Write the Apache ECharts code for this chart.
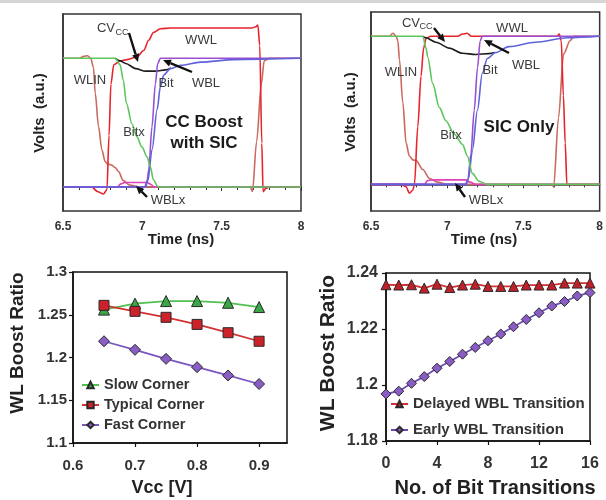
<!DOCTYPE html>
<html><head><meta charset="utf-8">
<script src="https://cdn.jsdelivr.net/npm/echarts@6/dist/echarts.min.js"></script>
<style>html,body{margin:0;padding:0;background:#fff}#c{width:606px;height:500px}</style>
</head><body><div id="c"></div>
<script>
// ---------- DATA ----------
// Top-left: "CC Boost with SIC" waveforms  [time ns, volts a.u.]
const p1WLIN = [[6.5,1],[6.6,1],[6.63,1.015],[6.655,1.02],[6.675,1.0],[6.692,0.93],[6.703,0.73],[6.724,0.47],[6.745,0.29],[6.765,0.2],[6.78,0.18],[6.808,0.17],[6.83,0.15],[6.85,0.12],[6.88,0.05],[6.92,0.015],[6.99,0],[7.68,0],[7.694,-0.035],[7.72,0.35],[7.75,0.8],[7.768,0.98],[7.8,1],[8,1]];
const p1WWL = [[6.5,0],[6.68,0],[6.72,-0.036],[6.755,-0.054],[6.777,-0.02],[6.79,0.4],[6.802,0.8],[6.82,0.95],[6.86,0.98],[6.903,0.99],[6.966,1.01],[7.008,1.06],[7.04,1.14],[7.07,1.2],[7.114,1.23],[7.177,1.235],[7.69,1.235],[7.715,1.245],[7.728,1.258],[7.74,1.1],[7.753,0.34],[7.761,-0.036],[7.778,-0.01],[7.8,0],[8,0]];
const p1CV = [[6.83,1.0],[6.86,0.98],[6.895,0.96],[6.958,0.92],[7.021,0.9],[7.085,0.9],[7.146,0.91],[7.18,0.925]];
const p1WBLx = [[6.5,0],[6.84,0],[6.865,0.025],[6.89,0.035],[7.03,0.035],[7.055,0.02],[7.075,0],[8,0]];
const p1Bit = [[6.5,0],[7.015,0],[7.03,0.05],[7.04,0.13],[7.061,0.47],[7.082,0.8],[7.097,0.96],[7.114,1.0],[8,1]];
const p1WBL = [[6.5,0],[7.02,0],[7.035,0.05],[7.061,0.29],[7.093,0.6],[7.114,0.78],[7.135,0.87],[7.177,0.92],[7.24,0.945],[7.367,0.97],[7.576,0.99],[8,1.0]];
const p1Bitx = [[6.5,1],[6.83,1],[6.86,0.95],[6.88,0.83],[6.9,0.65],[6.935,0.49],[6.966,0.39],[6.998,0.31],[7.03,0.235],[7.05,0.16],[7.07,0.055],[7.1,0.0],[8,0]];

// Top-right: "SIC Only" waveforms
const p2WLIN = [[6.5,1],[6.62,1],[6.644,1.02],[6.665,1.0],[6.676,0.97],[6.687,0.84],[6.709,0.55],[6.73,0.28],[6.752,0.19],[6.775,0.165],[6.796,0.16],[6.84,0.1],[6.883,0.04],[6.937,0.015],[7.0,0],[7.69,0],[7.698,-0.02],[7.73,0.45],[7.763,0.88],[7.806,0.97],[7.83,1],[8,1]];
const p2WWL = [[6.5,0],[6.7,0],[6.73,-0.016],[6.752,-0.06],[6.774,-0.04],[6.785,0.0],[6.807,0.39],[6.828,0.73],[6.845,0.92],[6.861,0.985],[6.893,1.0],[7.07,1.0],[7.1,1.015],[7.13,1.02],[7.16,1.0],[7.72,1.0],[7.735,1.015],[7.748,0.97],[7.762,0.6],[7.774,0.28],[7.785,0.0],[7.8,0],[8,0]];
const p2CV = [[6.84,1.0],[6.86,0.99],[6.926,0.96],[7.013,0.92],[7.1,0.885],[7.187,0.877],[7.274,0.883],[7.31,0.89]];
const p2WBLx = [[6.5,0],[6.85,0],[6.872,0.025],[6.9,0.03],[7.12,0.03],[7.15,0.015],[7.185,0],[8,0]];
const p2Bit = [[6.5,0],[7.12,0],[7.135,0.03],[7.155,0.2],[7.177,0.5],[7.199,0.79],[7.216,0.97],[7.23,1.0],[8,1]];
const p2WBL = [[6.5,0],[7.125,0],[7.14,0.04],[7.165,0.23],[7.198,0.5],[7.23,0.75],[7.263,0.85],[7.317,0.89],[7.405,0.93],[7.578,0.96],[7.79,0.99],[8,1.0]];
const p2Bitx = [[6.5,1],[6.84,1],[6.861,0.92],[6.872,0.86],[6.905,0.68],[6.948,0.52],[6.991,0.43],[7.046,0.34],[7.1,0.27],[7.133,0.19],[7.165,0.074],[7.209,0.02],[7.263,0.0],[8,0]];

// Bottom-left: WL boost ratio vs Vcc
const vcc = [0.65, 0.7, 0.75, 0.8, 0.85, 0.9];
const slowCorner = [1.256, 1.263, 1.266, 1.266, 1.264, 1.259];
const typicalCorner = [1.261, 1.254, 1.247, 1.2387, 1.229, 1.219];
const fastCorner = [1.219, 1.209, 1.1984, 1.1887, 1.179, 1.169];

// Bottom-right: WL boost ratio vs number of bit transitions
const bitTransitions = [0,1,2,3,4,5,6,7,8,9,10,11,12,13,14,15,16];
const delayedWBL = [1.2358,1.2357,1.2358,1.2346,1.236,1.2348,1.2357,1.236,1.2352,1.2352,1.2352,1.2357,1.2357,1.2357,1.2364,1.2364,1.2364];
const earlyWBL = [1.1968,1.1978,1.2006,1.203,1.206,1.2084,1.211,1.2134,1.2158,1.2182,1.2208,1.2234,1.2258,1.2282,1.2298,1.2318,1.233];

// Axis ticks
const timeTicks = [6.5, 7, 7.5, 8];
const vccTicks = [0.6, 0.7, 0.8, 0.9];
const ratioTicksL = [1.1, 1.15, 1.2, 1.25, 1.3];
const bitTicks = [0, 4, 8, 12, 16];
const ratioTicksR = [1.18, 1.2, 1.22, 1.24];

// ---------- CHART ----------
const FF = '"Liberation Sans", Arial, Helvetica, sans-serif';
const zip = (xs, ys) => xs.map((x, i) => [x, ys[i]]);
const C = {wlin:'#c96a5f', wwl:'#e8232b', cv:'#1e1e1e', wblx:'#e040b8', bit:'#9a4fd0', wbl:'#5f62dc', bitx:'#5cc65c'};

function wave(name, data, color, gi, z) {
  return {type:'line', name:name, data:data, xAxisIndex:gi, yAxisIndex:gi, symbol:'none', showSymbol:false,
    smooth:0.3, smoothMonotone:'x', lineStyle:{color:color, width:1.6}, z:z, silent:true, animation:false};
}

const topX = (gi) => ({type:'value', gridIndex:gi, min:timeTicks[0], max:timeTicks[timeTicks.length-1], interval:0.5,
  axisLine:{show:true, lineStyle:{color:'#333', width:1.5}},
  axisTick:{show:true, length:4, lineStyle:{color:'#333'}},
  minorTick:{show:true, splitNumber:5, length:3, lineStyle:{color:'#333'}},
  splitLine:{show:false},
  axisLabel:{margin:10, color:'#333', fontSize:12, fontWeight:'bold', fontFamily:FF}});
const topY = (gi, mn, mx) => ({type:'value', gridIndex:gi, min:mn, max:mx, axisLine:{show:true, lineStyle:{color:'#333', width:1.5}},
  axisTick:{show:false}, axisLabel:{show:false}, splitLine:{show:false}});

const series = [
  wave('WLIN1', p1WLIN, C.wlin, 0, 1), wave('WWL1', p1WWL, C.wwl, 0, 2), wave('CV1', p1CV, C.cv, 0, 3),
  wave('WBLx1', p1WBLx, C.wblx, 0, 4), wave('Bit1', p1Bit, C.bit, 0, 5), wave('WBL1', p1WBL, C.wbl, 0, 6),
  wave('Bitx1', p1Bitx, C.bitx, 0, 7),
  wave('WLIN2', p2WLIN, C.wlin, 1, 1), wave('WWL2', p2WWL, C.wwl, 1, 2), wave('CV2', p2CV, C.cv, 1, 3),
  wave('WBLx2', p2WBLx, C.wblx, 1, 4), wave('Bit2', p2Bit, C.bit, 1, 5), wave('WBL2', p2WBL, C.wbl, 1, 6),
  wave('Bitx2', p2Bitx, C.bitx, 1, 7),
  {type:'line', name:'Slow Corner', data:zip(vcc, slowCorner), xAxisIndex:2, yAxisIndex:2, symbol:'triangle', symbolSize:11,
    itemStyle:{color:'#3aa648', borderColor:'#2a2a2a', borderWidth:1}, lineStyle:{color:'#52c052', width:1.8}, animation:false},
  {type:'line', name:'Typical Corner', data:zip(vcc, typicalCorner), xAxisIndex:2, yAxisIndex:2, symbol:'rect', symbolSize:10,
    itemStyle:{color:'#cc2229', borderColor:'#2a2a2a', borderWidth:1}, lineStyle:{color:'#d23232', width:1.8}, animation:false},
  {type:'line', name:'Fast Corner', data:zip(vcc, fastCorner), xAxisIndex:2, yAxisIndex:2, symbol:'diamond', symbolSize:11,
    itemStyle:{color:'#8a5cc6', borderColor:'#2a2a2a', borderWidth:1}, lineStyle:{color:'#7a56c0', width:1.8}, animation:false},
  {type:'line', name:'Delayed WBL Transition', data:zip(bitTransitions, delayedWBL), xAxisIndex:3, yAxisIndex:3, symbol:'triangle', symbolSize:10,
    itemStyle:{color:'#c0202a', borderColor:'#2a2a2a', borderWidth:1}, lineStyle:{color:'#d23232', width:1.8}, animation:false},
  {type:'line', name:'Early WBL Transition', data:zip(bitTransitions, earlyWBL), xAxisIndex:3, yAxisIndex:3, symbol:'diamond', symbolSize:10,
    itemStyle:{color:'#8a5cc6', borderColor:'#2a2a2a', borderWidth:1}, lineStyle:{color:'#6c4cb4', width:1.8}, animation:false}
];

const botAxisCommon = (fs, margin) => ({
  axisLine:{show:true, lineStyle:{color:'#111', width:1.5}},
  axisTick:{show:true, length:4, lineStyle:{color:'#111', width:1.2}},
  splitLine:{show:false},
  axisLabel:{margin:margin, color:'#333', fontSize:fs, fontWeight:'bold', fontFamily:FF}
});

// annotations
const g = [];
g.push({type:'rect', shape:{x:0,y:0,width:606,height:3}, style:{fill:'#d6d6d6'}, z:100});
function txt(s, x, y, fs, bold, color, rot) {
  g.push({type:'text', x:x, y:y, rotation:rot||0, z:100, style:{text:s, x:0, y:0, align:'center', verticalAlign:'middle',
    font:(bold?'bold ':'') + fs + 'px ' + FF, fill:color||'#3a3a3a'}});
}
function arrow(x1, y1, x2, y2) {
  const a = Math.atan2(y2 - y1, x2 - x1), L = 8, W = 3.6;
  const bx = x2 - L*Math.cos(a), by = y2 - L*Math.sin(a);
  g.push({type:'line', z:100, shape:{x1:x1, y1:y1, x2:bx, y2:by}, style:{stroke:'#111', lineWidth:2.4}});
  g.push({type:'polygon', z:100, shape:{points:[[x2,y2],[bx - W*Math.sin(a), by + W*Math.cos(a)],[bx + W*Math.sin(a), by - W*Math.cos(a)]]}, style:{fill:'#111'}});
}
// top-left
txt('CV', 106, 28, 13); txt('CC', 122, 33, 9);
arrow(129, 33, 138, 62);
txt('WWL', 201, 40, 13); txt('WLIN', 90, 80, 13); txt('Bit', 166, 83, 13); txt('WBL', 206, 83, 13);
arrow(192, 72, 163, 60);
txt('Bitx', 134, 132, 13);
txt('CC Boost', 204, 122, 17, true, '#1a1a1a'); txt('with SIC', 204, 143, 17, true, '#1a1a1a');
txt('WBLx', 168, 200, 13); arrow(147, 197, 136, 186);
txt('Volts  (a.u.)', 40, 113, 15, true, '#222', Math.PI/2);
txt('Time (ns)', 181, 240, 15, true, '#222');
// top-right
txt('CV', 411, 23, 13); txt('CC', 426, 27, 9);
arrow(434, 28, 445, 42);
txt('WWL', 512, 28, 13); txt('WLIN', 401, 72, 13); txt('Bit', 490, 70, 13); txt('WBL', 526, 65, 13);
arrow(509, 53, 484, 40);
txt('Bitx', 451, 135, 13);
txt('SIC Only', 519, 127, 17, true, '#1a1a1a');
txt('WBLx', 486, 200, 13); arrow(465, 197, 455, 183);
txt('Volts  (a.u.)', 351, 112, 15, true, '#222', Math.PI/2);
txt('Time (ns)', 484, 240, 15, true, '#222');
// bottom titles
txt('WL Boost Ratio', 18, 343, 19, true, '#222', Math.PI/2);
txt('Vcc [V]', 162, 488, 18, true, '#222');
txt('WL Boost Ratio', 328, 353, 21, true, '#222', Math.PI/2);
txt('No. of Bit Transitions', 495, 488, 20, true, '#222');

const option = {
  backgroundColor:'#fff',
  animation:false,
  grid:[
    {left:63, top:14, width:238, height:197, show:true, borderColor:'#333', borderWidth:1.5, backgroundColor:'transparent'},
    {left:371, top:12, width:232, height:199, show:true, borderColor:'#333', borderWidth:1.5, backgroundColor:'transparent'},
    {left:73, top:272, width:214, height:171, show:true, borderColor:'#111', borderWidth:1.5, backgroundColor:'transparent'},
    {left:386, top:273, width:204, height:168, show:true, borderColor:'#111', borderWidth:1.5, backgroundColor:'transparent'}
  ],
  xAxis:[
    topX(0), topX(1),
    Object.assign({type:'value', gridIndex:2, min:vccTicks[0], max:0.945, interval:0.1}, botAxisCommon(15, 15),
      {axisLabel:{margin:15, color:'#333', fontSize:15, fontWeight:'bold', fontFamily:FF, showMaxLabel:false,
        formatter:(v)=> vccTicks.some(t=>Math.abs(t-v)<1e-6) ? String(v) : ''}}),
    Object.assign({type:'value', gridIndex:3, min:bitTicks[0], max:bitTicks[bitTicks.length-1], interval:4}, botAxisCommon(16, 15))
  ],
  yAxis:[
    topY(0, -0.186, 1.344), topY(1, -0.18, 1.164),
    Object.assign({type:'value', gridIndex:2, min:ratioTicksL[0], max:ratioTicksL[ratioTicksL.length-1], interval:0.05}, botAxisCommon(15, 6)),
    Object.assign({type:'value', gridIndex:3, min:ratioTicksR[0], max:ratioTicksR[ratioTicksR.length-1], interval:0.02}, botAxisCommon(16, 8))
  ],
  legend:[
    {data:['Slow Corner','Typical Corner','Fast Corner'], orient:'vertical', left:81, top:377, padding:0,
      itemWidth:17, itemHeight:8, itemGap:4, selectedMode:false,
      textStyle:{fontSize:14.5, fontWeight:'bold', color:'#333', fontFamily:FF, lineHeight:16}},
    {data:['Delayed WBL Transition','Early WBL Transition'], orient:'vertical', left:390, top:396, padding:0,
      itemWidth:17, itemHeight:8, itemGap:10, selectedMode:false,
      textStyle:{fontSize:15, fontWeight:'bold', color:'#333', fontFamily:FF, lineHeight:16}}
  ],
  series:series,
  graphic:g
};
const chart = echarts.init(document.getElementById('c'), null, {renderer:'canvas'});
chart.setOption(option);
</script></body></html>
